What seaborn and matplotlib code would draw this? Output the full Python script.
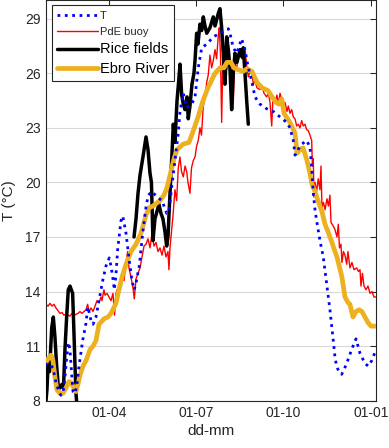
import numpy as np
import pandas as pd
import matplotlib
matplotlib.use("Agg")
import matplotlib.pyplot as plt
import seaborn as sns

# day of year (0 = 1 Jan), temperature in degC
t_day = [22.4, 25.6, 27.7, 30.8, 34.0, 37.1, 39.2, 41.3, 43.4, 45.5, 47.1, 48.7, 50.3, 51.9,
         54.0, 56.1, 58.2, 62.0, 65.5, 67.3, 68.7, 70.8, 72.9, 76.0, 79.2, 83.1, 86.5, 90.0,
         91.8, 93.6, 95.3, 97.0, 98.8, 102.3, 104.1, 105.5, 107.6, 111.0, 113.9, 116.3, 118.6,
         121.5, 125.1, 128.6, 131.0, 134.9, 140.1, 145.4, 150.3, 152.7, 155.6, 159.0, 162.5,
         164.3, 167.8, 171.3, 176.6, 180.1, 183.5, 187.1, 192.4, 199.3, 206.3, 215.1, 216.8,
         220.3, 223.9, 229.1, 232.6, 236.1, 239.6, 243.1, 248.4, 255.4, 262.4, 269.4, 276.4,
         279.9, 283.4, 285.2, 288.3, 292.2, 297.4, 300.9, 302.7, 304.4, 306.2, 307.9, 311.4,
         314.9, 318.5, 321.9, 325.4, 327.2, 329.0, 331.4, 334.2, 336.6, 339.5, 344.6, 349.3,
         351.4, 353.5, 358.7, 362.2, 365.8, 370.3]
t_val = [10.05, 9.96, 10.0, 9.8, 9.0, 8.5, 8.3, 8.4, 9.3, 10.5, 11.2, 10.8, 9.6, 8.5,
         8.4, 8.9, 9.9, 11.3, 12.25, 13.15, 12.9, 12.4, 12.2, 12.6, 13.5, 14.6, 15.4, 15.85,
         15.4, 14.8, 14.1, 14.9, 16.3, 17.9, 18.15, 17.8, 17.2, 15.7, 14.6, 14.1, 14.6,
         15.4, 17.2, 18.65, 19.3, 19.5, 19.2, 19.0, 18.3, 18.4, 19.75, 21.2, 22.7,
         23.9, 24.9, 24.1, 24.3, 24.7, 26.3, 27.4, 27.6, 28.0, 28.2, 28.45, 28.2,
         27.4, 27.1, 27.9, 27.3, 26.3, 25.6, 24.7, 24.3, 24.05, 23.9, 23.6, 23.3,
         23.0, 22.3, 21.5, 21.8, 22.1, 22.3, 21.95, 20.85, 19.4, 18.5, 17.9, 16.8,
         15.9, 14.4, 13.0, 11.3, 10.4, 9.87, 9.6, 9.45, 9.7, 10.05, 10.8, 11.4,
         11.0, 10.6, 10.05, 9.9, 10.2, 10.8]

pde_day = [23.5, 25.6, 27.7, 29.8, 31.9, 34.0, 36.1, 38.2, 40.3, 42.4, 44.5, 46.6, 48.7, 50.8,
           52.9, 55.0, 57.1, 59.2, 61.3, 63.4, 65.5, 67.3, 68.7, 70.8, 72.9, 75.0, 77.1, 79.2,
           81.3, 82.3, 84.4, 85.5, 87.6, 89.7, 91.8, 93.9, 95.5, 97.0, 99.1, 101.2, 103.4,
           105.5, 107.6, 109.3, 110.7, 112.8, 114.9, 116.3, 118.1, 120.2, 122.3, 124.4, 126.5,
           128.6, 130.7, 132.8, 134.9, 137.0, 139.1, 141.2, 143.3, 145.4, 147.5, 149.6, 151.7,
           152.7, 153.8, 155.6, 157.0, 159.0, 160.8, 162.5, 164.3, 165.9, 167.8, 169.6, 171.3,
           172.7, 174.8, 176.4, 178.3, 180.1, 181.8, 183.5, 185.3, 186.9, 188.8, 190.6, 192.4,
           194.0, 195.8, 197.6, 199.3, 201.1, 202.8, 204.6, 205.6, 206.9, 208.1, 209.5, 211.1,
           213.4, 215.3, 216.8, 218.4, 220.3, 221.6, 223.9, 225.8, 227.4, 229.4, 232.6, 234.4,
           236.1, 237.9, 239.6, 241.5, 243.1, 245.2, 248.4, 250.5, 252.6, 255.4, 257.3, 258.9,
           260.7, 262.0, 264.1, 266.2, 267.8, 269.4, 271.2, 272.9, 274.6, 276.8, 278.1, 279.9,
           281.7, 283.4, 285.2, 286.9, 288.6, 290.4, 292.2, 293.9, 295.7, 297.4, 299.1, 300.9,
           302.7, 303.5, 304.4, 305.1, 306.2, 307.9, 309.6, 311.4, 312.5, 313.5, 315.1, 316.7,
           318.8, 320.3, 321.9, 323.0, 325.4, 327.2, 329.3, 330.7, 331.9, 333.5, 334.5, 336.1,
           337.7, 339.5, 340.8, 342.9, 345.0, 347.2, 350.0, 351.9, 353.5, 354.5, 356.1, 357.7,
           359.8, 361.9, 364.0, 366.1, 368.2, 370.3]
pde_val = [13.3, 13.2, 13.35, 13.2, 13.3, 13.1, 12.95, 12.8, 12.85, 12.7, 12.75, 12.7, 12.65, 12.8,
           12.7, 12.75, 12.8, 12.9, 12.8, 12.9, 13.0, 13.3, 12.9, 13.1, 12.9, 13.2, 13.5, 13.4,
           13.7, 13.5, 14.1, 13.8, 13.9, 13.7, 13.5, 13.9, 12.7, 13.9, 14.2, 14.3, 14.8,
           14.6, 15.6, 16.2, 15.3, 14.8, 14.2, 13.6, 14.7, 15.0, 15.3, 15.9, 16.5,
           16.6, 16.9, 16.4, 17.2, 16.5, 16.7, 16.2, 16.4, 16.0, 16.5, 15.9, 16.2,
           15.2, 16.4, 17.4, 18.2, 19.6, 19.0, 20.8, 21.4, 20.6, 20.3, 20.9, 20.6,
           20.0, 19.4, 20.8, 21.2, 21.4, 22.0, 22.3, 23.0, 22.6, 24.2, 24.6, 25.5,
           25.9, 27.0, 26.3, 26.7, 27.3, 26.8, 28.1, 28.5, 27.0, 23.3, 27.3, 26.6,
           26.2, 26.9, 26.0, 25.5, 24.3, 26.5, 26.3, 27.0, 27.3, 26.8, 27.4, 26.4,
           25.8, 26.1, 26.0, 25.4, 25.6, 25.2, 25.1, 25.3, 24.9, 24.7, 24.9, 24.4,
           23.1, 24.6, 24.4, 24.8, 24.3, 24.9, 24.6, 24.3, 24.4, 23.9, 24.2, 23.8,
           24.0, 23.6, 23.5, 23.1, 23.2, 23.0, 23.4, 23.1, 23.2, 22.9, 22.85, 22.6,
           22.3, 20.9, 21.3, 19.2, 20.0, 19.5, 20.2, 19.6, 20.9, 18.6, 18.9, 18.5,
           19.1, 18.7, 19.3, 17.8, 17.6, 17.4, 17.0, 17.7, 16.4, 16.6, 15.6, 16.2,
           16.0, 15.5, 16.2, 15.3, 15.6, 15.2, 15.3, 15.1, 15.2, 14.3, 15.0, 14.3,
           14.1, 14.3, 13.9, 14.0, 13.7, 13.7]

# rice fields: two stretches of record
rice_day_a = [23.5, 24.5, 25.9, 27.2, 29.5, 31.2, 32.9, 34.7, 36.4, 38.2, 40.3, 41.9, 43.4,
              45.2, 46.9, 48.7, 51.5, 52.9, 54.0, 55.0, 56.4]
rice_val_a = [8.0, 8.6, 10.2, 9.6, 12.0, 12.6, 11.5, 9.9, 8.8, 8.7, 8.9, 8.7, 10.8,
              12.6, 14.1, 14.3, 13.9, 11.7, 9.9, 8.4, 7.5]
rice_day_b = [116.0, 118.1, 120.2, 122.3, 125.4, 128.6, 130.7, 132.8, 134.3, 135.9, 138.0,
              140.1, 142.2, 144.3, 146.4, 148.5, 150.3, 151.7, 153.8, 155.9, 157.3, 159.0,
              161.2, 163.3, 164.3, 166.1, 167.8, 169.6, 171.7, 173.0, 174.8, 176.9, 179.0,
              180.1, 181.8, 183.2, 185.3, 187.1, 188.8, 190.6, 192.4, 195.8, 199.3, 201.1,
              204.6, 206.3, 208.1, 209.8, 211.6, 213.4, 215.1, 216.8, 218.6, 220.3, 222.1,
              224.2, 227.4, 229.4, 230.8, 232.6, 234.4, 236.1]
rice_val_b = [17.0, 18.0, 19.4, 20.4, 21.4, 22.5, 21.8, 20.5, 20.0, 16.8, 18.0,
              18.4, 18.8, 18.3, 18.0, 17.3, 16.5, 17.0, 19.4, 21.6, 23.2, 22.2,
              24.5, 25.8, 26.5, 24.8, 24.3, 24.0, 24.7, 23.5, 24.2, 25.4, 26.0,
              26.7, 28.2, 27.6, 28.7, 28.35, 29.1, 28.6, 28.2, 28.5, 29.1, 28.6,
              29.3, 29.55, 28.5, 27.1, 25.4, 28.0, 27.3, 26.3, 24.0, 26.0, 27.1,
              26.6, 27.3, 26.9, 27.4, 26.0, 24.5, 23.2]

ebro_day = [23.5, 25.6, 28.7, 30.8, 32.9, 35.0, 38.2, 41.3, 44.5, 47.7, 49.8, 51.9, 55.0,
            57.1, 59.2, 62.4, 65.5, 69.7, 72.9, 76.0, 79.2, 84.4, 88.6, 91.8, 97.0, 100.2,
            103.4, 107.6, 112.8, 118.1, 123.3, 128.6, 131.7, 135.9, 143.3, 147.5, 150.6,
            154.8, 158.0, 161.2, 167.5, 173.8, 178.0, 183.3, 188.5, 193.7, 201.1, 206.3,
            210.5, 213.7, 217.9, 221.0, 225.2, 230.5, 234.7, 240.0, 245.2, 250.5, 256.8,
            261.0, 265.2, 268.3, 271.2, 273.6, 279.9, 285.2, 287.3, 290.4, 293.6, 297.8,
            300.9, 303.0, 306.2, 309.3, 313.5, 316.7, 319.8, 324.0, 327.2, 329.3, 334.5,
            337.7, 340.8, 342.9, 346.1, 349.3, 352.4, 355.6, 358.7, 361.9, 365.0, 370.3]
ebro_val = [10.1, 10.3, 10.5, 10.2, 9.3, 8.6, 8.4, 8.4, 8.7, 9.05, 9.0, 8.8, 8.5,
            8.9, 9.4, 9.9, 10.2, 10.8, 11.0, 11.3, 12.2, 12.5, 12.6, 12.8, 13.35, 14.1,
            14.8, 15.5, 16.2, 16.6, 17.2, 18.2, 18.6, 18.7, 19.0, 19.3, 19.7,
            20.6, 21.3, 21.8, 22.1, 22.2, 22.8, 23.6, 24.5, 25.2, 26.0, 26.3,
            26.3, 26.6, 26.6, 26.3, 26.2, 26.1, 26.25, 26.1, 25.5, 25.2, 25.05,
            24.7, 24.4, 24.3, 24.6, 23.8, 23.3, 22.7, 21.6, 21.8, 21.9, 21.2,
            20.5, 19.9, 19.5, 19.0, 18.4, 17.7, 17.3, 16.7, 16.2, 15.9, 14.8,
            13.7, 13.4, 13.3, 12.6, 12.9, 13.0, 12.9, 12.6, 12.3, 12.1, 12.1]

tick_days = [90, 181, 273, 365]
tick_labels = ["01-04", "01-07", "01-10", "01-01"]
y_ticks = [8, 11, 14, 17, 20, 23, 26, 29]

BLUE = "#0000FF"
RED = "#FF0000"
BLACK = "#000000"
ORANGE = "#EDB120"
DARK = "#262626"

sns.set_style("white")
plt.rcParams["font.family"] = ["Liberation Sans", "DejaVu Sans"]

fig = plt.figure(figsize=(3.89, 4.48), dpi=100)
ax = fig.add_axes([46 / 389, 47.3 / 448, 330 / 389, 400.2 / 448])

sns.lineplot(x=pde_day, y=pde_val, ax=ax, color=RED, lw=1.0, sort=False,
             estimator=None, label="PdE buoy", zorder=2)
sns.lineplot(x=rice_day_a, y=rice_val_a, ax=ax, color=BLACK, lw=2.5, sort=False,
             estimator=None, label="Rice fields", zorder=3)
sns.lineplot(x=rice_day_b, y=rice_val_b, ax=ax, color=BLACK, lw=2.5, sort=False,
             estimator=None, zorder=3)
sns.lineplot(x=ebro_day, y=ebro_val, ax=ax, color=ORANGE, lw=3.4, sort=False,
             estimator=None, label="Ebro River", zorder=4)
sns.lineplot(x=t_day, y=t_val, ax=ax, color=BLUE, lw=2.0, sort=False,
             estimator=None, label="T", zorder=5, linestyle=":")

ax.set_xlim(23.5, 370.3)
ax.set_ylim(8, 30)
ax.set_xticks(tick_days)
ax.set_xticklabels(tick_labels)
ax.set_yticks(y_ticks)
ax.yaxis.grid(True, color="#d9d9d9", lw=0.8)
ax.xaxis.grid(False)
ax.set_axisbelow(True)
ax.tick_params(direction="in", top=True, right=True, length=4, width=0.75,
               labelsize=10, colors=DARK, pad=4)
for sp in ax.spines.values():
    sp.set_visible(True)
    sp.set_color(DARK)
    sp.set_linewidth(0.8)

ax.set_xlabel("dd-mm", fontsize=11, color=DARK, labelpad=3)
ax.set_ylabel("T (°C)", fontsize=11, color=DARK, labelpad=6)

handles, labels = ax.get_legend_handles_labels()
lookup = dict(zip(labels, handles))
order = ["T", "PdE buoy", "Rice fields", "Ebro River"]
leg = ax.legend([lookup[k] for k in order], order, loc="upper left",
                bbox_to_anchor=(0.018, 0.988), borderaxespad=0, fontsize=9,
                handlelength=3.3, handletextpad=0.15, labelspacing=0.42,
                borderpad=0.4, fancybox=False, framealpha=1, edgecolor=DARK)
leg.get_frame().set_linewidth(0.8)
for txt, size in zip(leg.get_texts(), [8, 8, 10.5, 10.5]):
    txt.set_fontsize(size)
    txt.set_color(DARK if size < 9 else BLACK)

fig.savefig("out.png", dpi=100)
